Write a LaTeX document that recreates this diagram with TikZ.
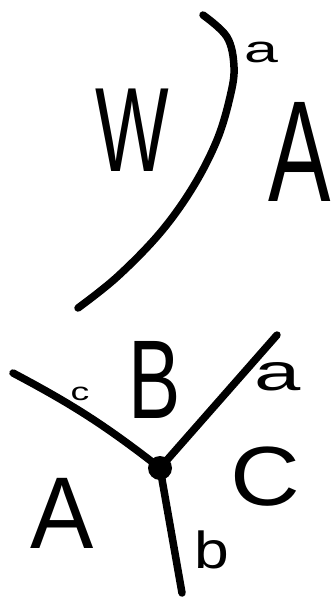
\documentclass[tikz,border=0pt]{standalone}
\usepackage{fontspec}
\setmainfont{Liberation Sans}
\usepackage{tikz}

\begin{document}
\begin{tikzpicture}[x=1pt, y=-1pt, line cap=round, line join=round,
	stroke/.style={line width=7.5pt},
	lbl/.style={inner sep=0pt, font=\fontsize{#1}{#1}\selectfont}]
		\useasboundingbox (0,0) rectangle (331,600);
		% upper picture: the arc
		\draw[stroke] plot[smooth, tension=0.6] coordinates {(203,15) (227,37) (234,67) (230,97) (217,140) (193,187) (160,233) (117,277) (78,308)};
		\node[lbl=38, xscale=1.6] (aup) at (261,52) {a};
		\node[lbl=120, xscale=0.65] (wreg) at (132,130) {W};
		\node[lbl=144, xscale=0.65] (aregup) at (300,152) {A};
		% lower picture: the junction
		\fill (160,468) circle (12pt) coordinate (jun);
		\coordinate (endc) at (13,373);
		\coordinate (enda) at (277,335);
		\coordinate (endb) at (182,593);
		\draw[stroke] (endc) to[bend left=5] (jun);
		\draw[stroke] (jun) -- (enda);
		\draw[stroke] (jun) -- (endb);
		\node[lbl=25, xscale=1.5] (clow) at (80,394) {c};
		\node[lbl=112, xscale=0.7] (breg) at (155,380) {B};
		\node[lbl=52, xscale=1.6] (alow) at (278,377) {a};
		\node[lbl=84, xscale=1.15] (creg) at (265,477) {C};
		\node[lbl=102, xscale=0.93] (areglow) at (62,513) {A};
		\node[lbl=52, xscale=1.2] (blow) at (212,550) {b};
	\end{tikzpicture}
\end{document}
